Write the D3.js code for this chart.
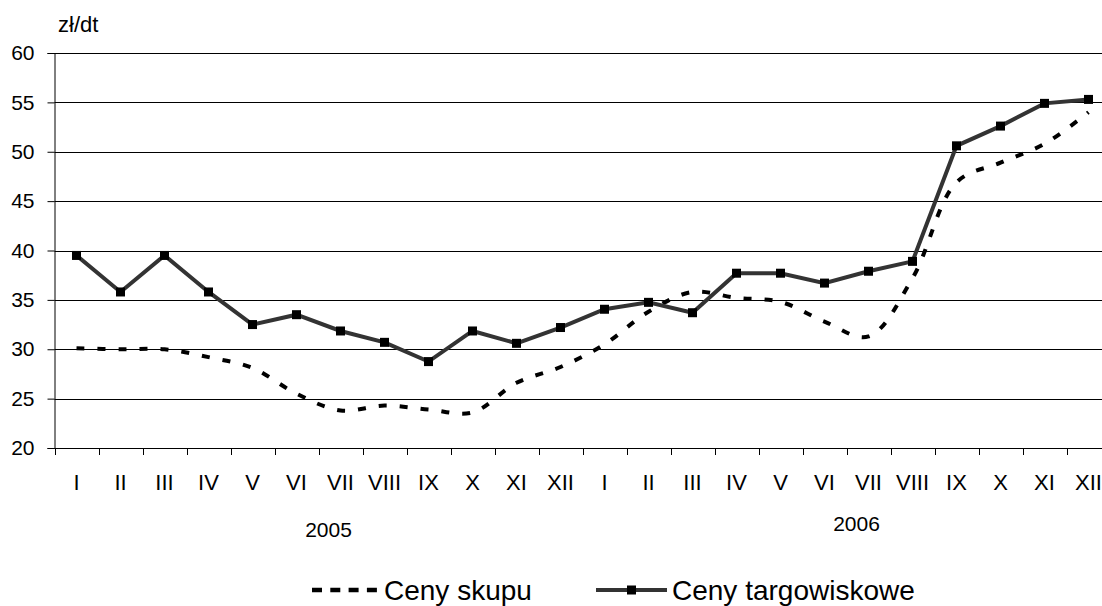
<!DOCTYPE html>
<html>
<head>
<meta charset="utf-8">
<script src="https://cdnjs.cloudflare.com/ajax/libs/d3/7.8.5/d3.min.js"></script>
<style>
  body { margin: 0; background: #fff; }
  svg { display: block; font-family: "Liberation Sans", Arial, sans-serif; }
</style>
</head>
<body>
<div class="visHolder"></div>
<script>
var months = ["I", "II", "III", "IV", "V", "VI", "VII", "VIII", "IX", "X", "XI", "XII",
              "I", "II", "III", "IV", "V", "VI", "VII", "VIII", "IX", "X", "XI", "XII"];
var years = ["2005", "2006"];
var cenySkupu = [30.1, 30.0, 30.0, 29.2, 28.1, 25.5, 23.8, 24.3, 23.9, 23.6, 26.6, 28.2,
                 30.5, 33.8, 35.8, 35.2, 34.8, 32.8, 31.3, 37.2, 46.9, 48.9, 50.8, 54.0];
var cenyTargowiskowe = [39.5, 35.8, 39.5, 35.8, 32.5, 33.5, 31.85, 30.7, 28.75, 31.85, 30.6, 32.2,
                        34.05, 34.75, 33.7, 37.7, 37.7, 36.7, 37.9, 38.9, 50.6, 52.6, 54.9, 55.3];
var yTicks = [20, 25, 30, 35, 40, 45, 50, 55, 60];
var legendLabels = ["Ceny skupu", "Ceny targowiskowe"];

var width = 1102,
    height = 606,
    plotLeft = 54.5,
    plotTop = 53,
    plotBottom = 448,
    band = 44;

var svg = d3
    .select(".visHolder")
    .append("svg")
    .attr("width", width)
    .attr("height", height);

var idx = months.map(function (d, i) { return i; });

var xScale = d3
    .scaleBand()
    .domain(idx)
    .range([plotLeft, plotLeft + band * months.length]);

var yScale = d3.scaleLinear().domain([20, 60]).range([plotBottom, plotTop]);

// gridlines
svg.append("g")
    .selectAll("line")
    .data(yTicks.slice(1))
    .enter()
    .append("line")
    .attr("x1", plotLeft)
    .attr("x2", width)
    .attr("y1", function (d) { return Math.round(yScale(d)) + 0.5; })
    .attr("y2", function (d) { return Math.round(yScale(d)) + 0.5; })
    .style("stroke", "#000")
    .style("stroke-width", 1);

// y axis
var yAxis = d3.axisLeft(yScale).tickValues(yTicks).tickSize(7).tickPadding(13);
var gy = svg.append("g")
    .attr("transform", "translate(" + plotLeft + ",0)")
    .call(yAxis);
gy.select(".domain").style("stroke", "#000");
gy.selectAll(".tick line").style("stroke", "#000");
gy.selectAll("text")
    .style("font-size", "21px")
    .style("font-family", "Liberation Sans, Arial, sans-serif")
    .style("fill", "#000");

// x axis
var xAxis = d3.axisBottom(xScale)
    .tickFormat(function (i) { return months[i]; })
    .tickSize(0)
    .tickPadding(26);
var gx = svg.append("g")
    .attr("transform", "translate(0," + plotBottom + ")")
    .call(xAxis);
gx.select(".domain").remove();
gx.append("line")
    .attr("x1", plotLeft)
    .attr("x2", width)
    .attr("y1", 0.5)
    .attr("y2", 0.5)
    .style("stroke", "#000");
gx.selectAll(".tickmark")
    .data(d3.range(months.length + 1))
    .enter()
    .append("line")
    .attr("class", "tickmark")
    .attr("x1", function (i) { return Math.round(plotLeft + i * band) + 0.5; })
    .attr("x2", function (i) { return Math.round(plotLeft + i * band) + 0.5; })
    .attr("y1", 0)
    .attr("y2", 7)
    .style("stroke", "#000");
gx.selectAll("text")
    .style("font-size", "22px")
    .style("font-family", "Liberation Sans, Arial, sans-serif")
    .style("fill", "#000");

// year labels
svg.selectAll(".year")
    .data(years)
    .enter()
    .append("text")
    .attr("class", "year")
    .attr("x", function (d, i) { return xScale(i * 12 + 6) + 10; })
    .attr("y", function (d, i) { return i === 0 ? 537 : 531; })
    .attr("text-anchor", "middle")
    .style("font-size", "21px")
    .text(function (d) { return d; });

// unit
svg.append("text")
    .attr("x", 58)
    .attr("y", 32)
    .style("font-size", "22px")
    .text("zł/dt");

var cx = function (d, i) { return xScale(i) + band / 2; };

var dashedLine = d3.line()
    .x(cx)
    .y(function (d) { return yScale(d); })
    .curve(d3.curveCatmullRom.alpha(0.5));

svg.append("path")
    .datum(cenySkupu)
    .attr("d", dashedLine)
    .style("fill", "none")
    .style("stroke", "#000")
    .style("stroke-width", 4)
    .style("stroke-dasharray", "8,13");

var solidLine = d3.line()
    .x(cx)
    .y(function (d) { return yScale(d); });

svg.append("path")
    .datum(cenyTargowiskowe)
    .attr("d", solidLine)
    .style("fill", "none")
    .style("stroke", "#333")
    .style("stroke-width", 4);

svg.selectAll(".marker")
    .data(cenyTargowiskowe)
    .enter()
    .append("rect")
    .attr("class", "marker")
    .attr("x", function (d, i) { return cx(d, i) - 4.5; })
    .attr("y", function (d) { return yScale(d) - 4.5; })
    .attr("width", 9)
    .attr("height", 9)
    .style("fill", "#000");

// legend
var legend = svg.append("g");
legend.append("line")
    .attr("x1", 312)
    .attr("x2", 378)
    .attr("y1", 590)
    .attr("y2", 590)
    .style("stroke", "#000")
    .style("stroke-width", 4.5)
    .style("stroke-dasharray", "10,8.3");
legend.append("text")
    .attr("x", 384)
    .attr("y", 600)
    .style("font-size", "28px")
    .text(legendLabels[0]);
legend.append("line")
    .attr("x1", 596)
    .attr("x2", 667)
    .attr("y1", 590)
    .attr("y2", 590)
    .style("stroke", "#333")
    .style("stroke-width", 4);
legend.append("rect")
    .attr("x", 627)
    .attr("y", 585.5)
    .attr("width", 9)
    .attr("height", 9)
    .style("fill", "#000");
legend.append("text")
    .attr("x", 672)
    .attr("y", 600)
    .style("font-size", "28px")
    .text(legendLabels[1]);
</script>
</body>
</html>
